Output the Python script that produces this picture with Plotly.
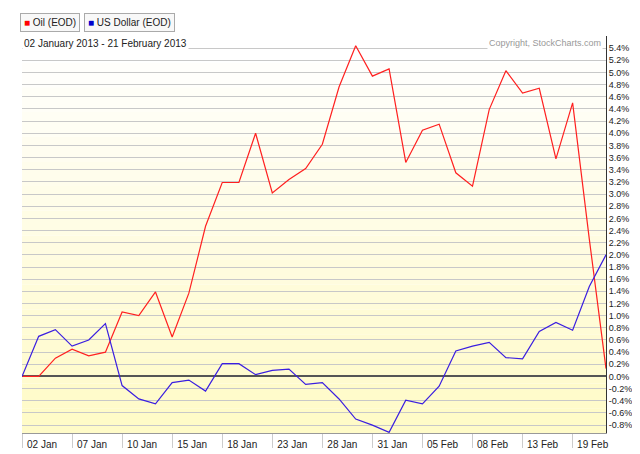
import plotly.graph_objects as go

dates = ["02 Jan","03 Jan","04 Jan","07 Jan","08 Jan","09 Jan","10 Jan","11 Jan","14 Jan","15 Jan",
         "16 Jan","17 Jan","18 Jan","21 Jan","22 Jan","23 Jan","24 Jan","25 Jan","28 Jan","29 Jan",
         "30 Jan","31 Jan","01 Feb","04 Feb","05 Feb","06 Feb","07 Feb","08 Feb","11 Feb","12 Feb",
         "13 Feb","14 Feb","15 Feb","19 Feb","20 Feb","21 Feb"]
oil = [0, 0, 0.30, 0.45, 0.34, 0.40, 1.06, 1.00, 1.39, 0.65,
       1.37, 2.47, 3.19, 3.19, 4.00, 3.02, 3.24, 3.42, 3.82, 4.76,
       5.44, 4.94, 5.06, 3.52, 4.05, 4.15, 3.35, 3.13, 4.39, 5.03,
       4.66, 4.74, 3.58, 4.50, 2.26, 0.13]
usd = [0, 0.66, 0.77, 0.50, 0.60, 0.87, -0.15, -0.37, -0.45, -0.10,
       -0.06, -0.24, 0.21, 0.21, 0.03, 0.10, 0.12, -0.13, -0.10, -0.37,
       -0.70, -0.80, -0.92, -0.39, -0.45, -0.16, 0.42, 0.50, 0.56, 0.31,
       0.29, 0.74, 0.89, 0.76, 1.48, 2.00]
tick_idx = list(range(0, 36, 3))
tick_text = [dates[i] for i in tick_idx]
yticks = [round(-0.8 + 0.2 * k, 1) for k in range(32)]

x = list(range(len(dates)))
fig = go.Figure()
for k in range(16):
    y0 = -0.93 + k * (6.5 / 16)
    y1 = y0 + 6.5 / 16
    t = k / 15
    g = int(251 + 4 * t); b = int(200 + 55 * t)
    fig.add_shape(type="rect", xref="paper", yref="y", x0=0, x1=1, y0=y0, y1=y1,
                  fillcolor=f"rgb(255,{g},{b})", line_width=0, layer="below")
fig.add_trace(go.Scatter(x=x, y=oil, mode="lines", line=dict(color="#ff2020", width=1.2), name="Oil (EOD)"))
fig.add_trace(go.Scatter(x=x, y=usd, mode="lines", line=dict(color="#3a1ee0", width=1.2), name="US Dollar (EOD)"))

fig.update_layout(
    width=640, height=454, margin=dict(l=14, r=42, t=28, b=22),
    paper_bgcolor="white", plot_bgcolor="rgba(0,0,0,0)", showlegend=False,
    font=dict(family="Liberation Sans, Arial", size=10, color="#222"),
    xaxis=dict(range=[0, 35], tickvals=tick_idx, ticktext=tick_text, ticks="outside", ticklen=14,
               tickcolor="#ccc", showgrid=False, zeroline=False, showline=True, linecolor="#999",
               ticklabelshift=20, ticklabelstandoff=-12, tickfont=dict(size=10)),
    yaxis=dict(range=[-0.93, 5.6], side="right", tickvals=yticks,
               ticktext=[f"{v:.1f}%" for v in yticks], showgrid=True, gridcolor="#c8c8c8",
               zeroline=True, zerolinecolor="#555", zerolinewidth=2, showline=True,
               linecolor="#333", ticks="", tickfont=dict(size=9)),
)
fig.add_annotation(xref="paper", yref="paper", x=0.0, y=1.0, xanchor="left", yanchor="top",
                   text="02 January 2013 - 21 February 2013", showarrow=False, font=dict(size=10),
                   bgcolor="white")
fig.add_annotation(xref="paper", yref="paper", x=0.995, y=1.0, xanchor="right", yanchor="top",
                   text="Copyright, StockCharts.com", showarrow=False, font=dict(size=9, color="#999"),
                   bgcolor="white")
fig.add_annotation(xref="paper", yref="paper", x=0.0, y=1.0, xshift=-2, yshift=4, xanchor="left", yanchor="bottom",
                   text="<span style='color:#ff0000'>■</span> Oil (EOD)", showarrow=False, bgcolor="#f8f8f8",
                   bordercolor="#aaa", borderwidth=1, borderpad=3, font=dict(size=10))
fig.add_annotation(xref="paper", yref="paper", x=0.0, y=1.0, xshift=62, yshift=4, xanchor="left", yanchor="bottom",
                   text="<span style='color:#0000cc'>■</span> US Dollar (EOD)", showarrow=False, bgcolor="#f8f8f8",
                   bordercolor="#aaa", borderwidth=1, borderpad=3, font=dict(size=10))
fig.write_html("out.html")
